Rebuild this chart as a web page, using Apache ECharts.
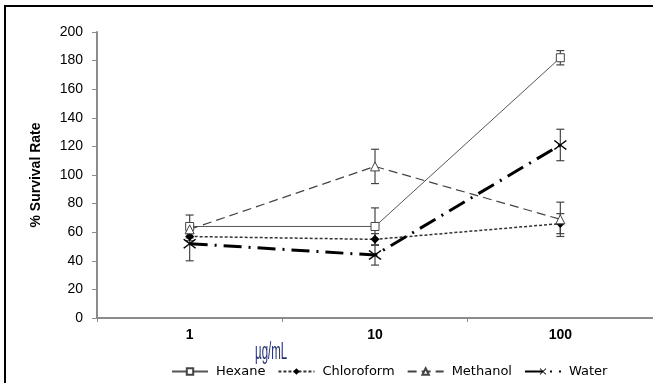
<!DOCTYPE html>
<html>
<head>
<meta charset="utf-8">
<script src="https://cdn.jsdelivr.net/npm/echarts@6/dist/echarts.min.js"></script>
<style>
  html, body { margin: 0; padding: 0; background: #fff; }
  #chart { width: 653px; height: 383px; }
</style>
</head>
<body>
<div id="chart"></div>
<script>
// 数据
const categories = ['1', '10', '100'];
const yTicks = [0, 20, 40, 60, 80, 100, 120, 140, 160, 180, 200];

const hexane = [64, 64, 182];
const hexaneErr = [8, 13, 5];
const chloroform = [57, 55, 66];
const chloroformErr = [3, 4, 7];
const methanol = [62, 106, 69];
const methanolErr = [3, 12, 12];
const water = [52, 44, 121];
const waterErr = [12, 7, 11];

const chart = echarts.init(document.getElementById('chart'));

// 误差线：竖线 + 上下横帽
function errorSeries(name, values, errs, color) {
    return {
        name: name + ' err',
        type: 'custom',
        z: 1,
        silent: true,
        data: values.map((v, i) => [i, v - errs[i], v + errs[i]]),
        renderItem: function (params, api) {
            const lo = api.coord([api.value(0), api.value(1)]);
            const hi = api.coord([api.value(0), api.value(2)]);
            const w = 4;
            const st = { stroke: color, lineWidth: 1.2 };
            return {
                type: 'group',
                children: [
                    { type: 'line', shape: { x1: hi[0], y1: hi[1], x2: lo[0], y2: lo[1] }, style: st },
                    { type: 'line', shape: { x1: hi[0] - w, y1: hi[1], x2: hi[0] + w, y2: hi[1] }, style: st },
                    { type: 'line', shape: { x1: lo[0] - w, y1: lo[1], x2: lo[0] + w, y2: lo[1] }, style: st }
                ]
            };
        }
    };
}

const xMark = 'path://M0,1L1,0L6,4.2L11,0L12,1L7,5L12,9L11,10L6,5.8L1,10L0,9L5,5Z';

const option = {
    animation: false,
    grid: { left: 97, right: -3.5, top: 32, bottom: 65 },
    xAxis: {
        type: 'category',
        data: categories,
        boundaryGap: true,
        axisLine: { lineStyle: { color: '#8c8c8c', width: 2 } },
        axisTick: { show: true, length: 4, lineStyle: { color: '#8c8c8c' } },
        axisLabel: { margin: 10, color: '#000', fontSize: 14, fontWeight: 'bold', fontFamily: 'Liberation Sans' }
    },
    yAxis: {
        type: 'value',
        min: 0,
        max: 200,
        interval: 20,
        name: '% Survival Rate',
        nameLocation: 'middle',
        nameGap: 54,
        nameTextStyle: { color: '#000', fontSize: 14, fontWeight: 'bold', fontFamily: 'Liberation Sans' },
        axisLine: { show: true, lineStyle: { color: '#8c8c8c', width: 2 } },
        axisTick: { show: true, length: 5, lineStyle: { color: '#8c8c8c' } },
        splitLine: { show: false },
        axisLabel: {
            margin: 14, color: '#000', fontSize: 14, fontFamily: 'Liberation Sans',
            formatter: v => yTicks.includes(v) ? String(v) : ''
        }
    },
    legend: {
        left: 166,
        top: 360,
        itemWidth: 36,
        itemHeight: 8,
        itemGap: 12,
        data: ['Hexane', 'Chloroform', 'Methanol', 'Water'],
        textStyle: { color: '#000', fontSize: 13, fontFamily: 'DejaVu Sans', padding: [0, 0, 0, 3] }
    },
    graphic: [
        { type: 'line', shape: { x1: 5, y1: 5, x2: 5, y2: 383 }, style: { stroke: '#000', lineWidth: 2 } },
        { type: 'line', shape: { x1: 4, y1: 6, x2: 653, y2: 6 }, style: { stroke: '#000', lineWidth: 2 } },
        {
            type: 'text', x: 255, y: 341, scaleX: 0.5, z: 10,
            style: { text: 'µg/mL', font: '23px "Liberation Sans"', fill: '#26306e' }
        }
    ],
    series: [
        errorSeries('Hexane', hexane, hexaneErr, '#444'),
        errorSeries('Chloroform', chloroform, chloroformErr, '#444'),
        errorSeries('Methanol', methanol, methanolErr, '#444'),
        errorSeries('Water', water, waterErr, '#444'),
        {
            name: 'Hexane', type: 'line', data: hexane, z: 3,
            symbol: 'rect', symbolSize: 8,
            lineStyle: { color: '#555', width: 1, type: 'solid' },
            itemStyle: { color: '#fff', borderColor: '#444', borderWidth: 1 }
        },
        {
            name: 'Chloroform', type: 'line', data: chloroform, z: 3,
            symbol: 'diamond', symbolSize: 9,
            lineStyle: { color: '#333', width: 1.5, type: [3, 2] },
            itemStyle: { color: '#000', borderColor: '#000', borderWidth: 0 }
        },
        {
            name: 'Methanol', type: 'line', data: methanol, z: 3,
            symbol: 'triangle', symbolSize: 9,
            lineStyle: { color: '#444', width: 1.2, type: [9, 5] },
            itemStyle: { color: '#fff', borderColor: '#444', borderWidth: 1 }
        },
        {
            name: 'Water', type: 'line', data: water, z: 3,
            symbol: xMark, symbolSize: [13, 10],
            lineStyle: { color: '#000', width: 3, type: [18, 7, 2, 7] },
            itemStyle: { color: '#000', borderWidth: 0 }
        }
    ]
};

chart.setOption(option);
window.addEventListener('resize', () => chart.resize());
</script>
</body>
</html>
